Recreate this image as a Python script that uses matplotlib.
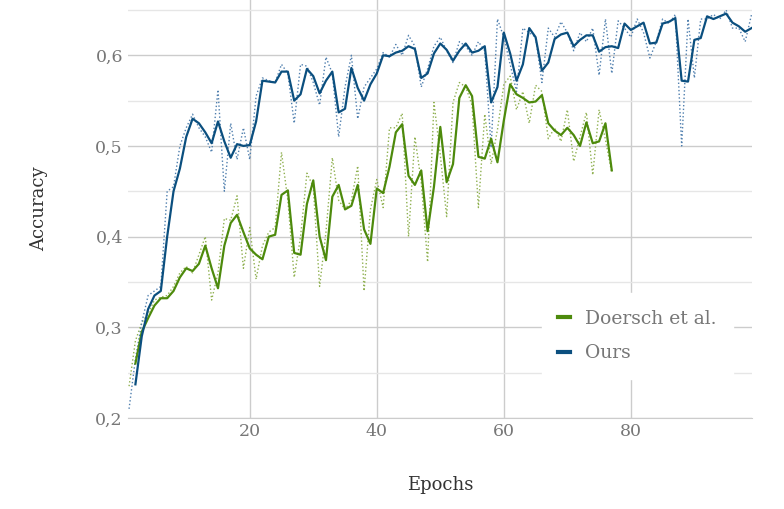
import numpy as np
import matplotlib
matplotlib.use('Agg')
import matplotlib.pyplot as plt
from matplotlib.ticker import FuncFormatter, MultipleLocator

ours_smooth = [0.237, 0.29, 0.32, 0.335, 0.34, 0.40, 0.45, 0.475, 0.51, 0.53, 0.525, 0.515, 0.503, 0.527,
               0.505, 0.487, 0.502, 0.50, 0.501, 0.527, 0.572, 0.571, 0.57, 0.582, 0.582, 0.55, 0.557, 0.585,
               0.577, 0.558, 0.572, 0.582, 0.537, 0.541, 0.586, 0.564, 0.55, 0.568, 0.58, 0.60, 0.599, 0.603,
               0.605, 0.61, 0.607, 0.575, 0.58, 0.602, 0.613, 0.606, 0.594, 0.605, 0.613, 0.603, 0.605, 0.61,
               0.548, 0.565, 0.625, 0.602, 0.572, 0.59, 0.63, 0.62, 0.583, 0.592, 0.618, 0.623, 0.625, 0.61,
               0.617, 0.622, 0.622, 0.604, 0.609, 0.61, 0.608, 0.635, 0.628, 0.632, 0.636, 0.613, 0.614, 0.635,
               0.637, 0.641, 0.572, 0.571, 0.617, 0.619, 0.643, 0.64, 0.643, 0.646, 0.636, 0.632, 0.626, 0.63]
ours_raw = [0.21, 0.265, 0.305, 0.335, 0.34, 0.345, 0.45, 0.455, 0.50, 0.52, 0.535, 0.52, 0.51, 0.493, 0.562,
            0.45, 0.525, 0.485, 0.52, 0.485, 0.555, 0.575, 0.572, 0.57, 0.59, 0.58, 0.525, 0.59, 0.588, 0.57,
            0.545, 0.598, 0.58, 0.51, 0.565, 0.60, 0.53, 0.565, 0.575, 0.585, 0.603, 0.598, 0.612, 0.60, 0.622,
            0.61, 0.565, 0.585, 0.61, 0.62, 0.605, 0.592, 0.615, 0.61, 0.60, 0.615, 0.605, 0.498, 0.64, 0.62,
            0.59, 0.56, 0.63, 0.625, 0.62, 0.57, 0.63, 0.62, 0.637, 0.625, 0.605, 0.625, 0.615, 0.63, 0.578,
            0.64, 0.58, 0.638, 0.63, 0.62, 0.64, 0.625, 0.597, 0.615, 0.64, 0.635, 0.645, 0.50, 0.64, 0.575,
            0.64, 0.64, 0.645, 0.64, 0.65, 0.63, 0.63, 0.615, 0.645]
doersch_smooth = [0.26, 0.295, 0.31, 0.324, 0.332, 0.332, 0.34, 0.355, 0.365, 0.362, 0.37, 0.39, 0.365, 0.343,
                  0.39, 0.415, 0.424, 0.405, 0.387, 0.38, 0.375, 0.40, 0.402, 0.446, 0.451, 0.382, 0.38, 0.436,
                  0.462, 0.40, 0.374, 0.444, 0.457, 0.43, 0.434, 0.457, 0.408, 0.392, 0.453, 0.448, 0.477, 0.515,
                  0.524, 0.467, 0.457, 0.473, 0.406, 0.455, 0.521, 0.46, 0.48, 0.553, 0.567, 0.555, 0.488, 0.486,
                  0.508, 0.482, 0.528, 0.568, 0.557, 0.553, 0.548, 0.549, 0.556, 0.525, 0.517, 0.512, 0.52, 0.512,
                  0.50, 0.526, 0.503, 0.505, 0.525, 0.473]
doersch_raw = [0.235, 0.285, 0.305, 0.315, 0.33, 0.333, 0.335, 0.345, 0.36, 0.367, 0.36, 0.38, 0.40, 0.33, 0.36,
               0.42, 0.418, 0.445, 0.365, 0.41, 0.353, 0.39, 0.405, 0.41, 0.493, 0.44, 0.355, 0.40, 0.47, 0.455,
               0.345, 0.405, 0.487, 0.44, 0.43, 0.44, 0.478, 0.34, 0.43, 0.463, 0.432, 0.52, 0.52, 0.536, 0.40,
               0.51, 0.46, 0.372, 0.548, 0.49, 0.422, 0.548, 0.57, 0.565, 0.545, 0.432, 0.535, 0.48, 0.518, 0.568,
               0.577, 0.54, 0.56, 0.525, 0.567, 0.56, 0.508, 0.52, 0.505, 0.54, 0.483, 0.51, 0.537, 0.468, 0.54,
               0.507, 0.47]

ep_ours_s = np.arange(2, 2 + len(ours_smooth))
ep_ours_r = np.arange(1, 1 + len(ours_raw))
ep_doe_s = np.arange(2, 2 + len(doersch_smooth))
ep_doe_r = np.arange(1, 1 + len(doersch_raw))

blue = '#0b4f7f'
green = '#4d8a0c'

plt.rcParams['font.family'] = 'DejaVu Serif'
fig = plt.figure(figsize=(7.84, 5.09), dpi=100)
ax = fig.add_axes([0.163, 0.179, 0.796, 0.821])

ax.plot(ep_doe_r, doersch_raw, ':', color='#8fb050', lw=1.0)
ax.plot(ep_ours_r, ours_raw, ':', color='#4f7fae', lw=1.0)
ax.plot(ep_doe_s, doersch_smooth, '-', color=green, lw=1.6, label='Doersch et al.')
ax.plot(ep_ours_s, ours_smooth, '-', color=blue, lw=1.6, label='Ours')

ax.set_xlim(0.8, 99.05)
ax.set_ylim(0.2, 0.661)
ax.xaxis.set_major_locator(MultipleLocator(20))
ax.yaxis.set_major_locator(MultipleLocator(0.1))
ax.yaxis.set_minor_locator(MultipleLocator(0.05))
ax.yaxis.set_major_formatter(FuncFormatter(lambda v, p: f'{v:.1f}'.replace('.', ',')))
ax.grid(True, which='major', color='#cccccc', lw=1)
ax.grid(True, which='minor', axis='y', color='#e6e6e6', lw=1)
ax.set_axisbelow(True)
for s in ['top', 'right', 'left']:
    ax.spines[s].set_visible(False)
ax.spines['bottom'].set_color('#cccccc')
ax.tick_params(which='both', length=0, labelsize=12.5, labelcolor='#777777')
ax.set_xlabel('Epochs', fontsize=13, color='#333333', labelpad=26)
ax.set_ylabel('Accuracy', fontsize=13, color='#333333', labelpad=34)

leg = ax.legend(loc='lower right', bbox_to_anchor=(0.985, 0.07), frameon=True, fancybox=False,
                edgecolor='white', facecolor='white', framealpha=1, handlelength=0.6,
                handletextpad=0.8, labelspacing=0.9, borderpad=0.9, fontsize=13.5)
for line in leg.get_lines():
    line.set_linewidth(3)
for t in leg.get_texts():
    t.set_color('#777777')

fig.savefig('out.png', dpi=100)
